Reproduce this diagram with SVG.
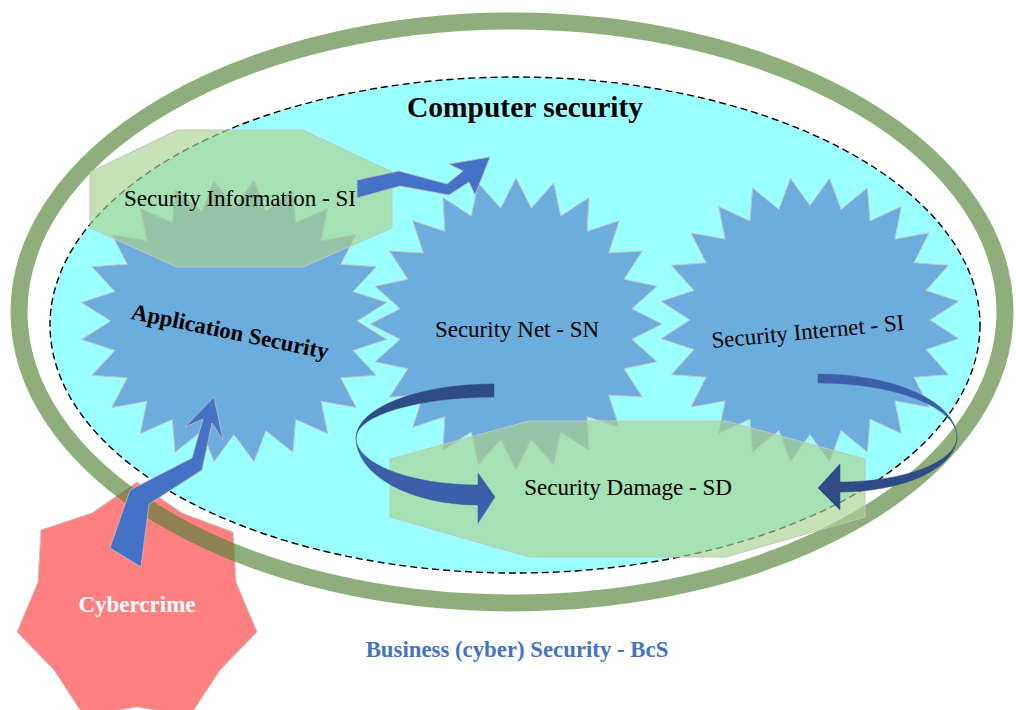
<svg xmlns="http://www.w3.org/2000/svg" xmlns:xlink="http://www.w3.org/1999/xlink" width="1016" height="710" viewBox="0 0 1016 710">
<style>
.t{font-family:"Liberation Serif","Times New Roman",serif;fill:#000;text-anchor:middle}
.b{font-weight:bold}
.star{fill:#6CADDD;stroke:#C4C4C4;stroke-width:1}
.oct{fill:#A9D18E;fill-opacity:0.66;stroke:#C4C4C4;stroke-width:1}
.arr{fill:#4472C4;stroke:#BFBFBF;stroke-width:0.8}
.dk{fill:#2F4C87;stroke:#2F4C87;stroke-width:0.5}
.lt{fill:#3C5FAA;stroke:#3C5FAA;stroke-width:0.5}
</style>
<defs>
<polygon id="star24" vector-effect="non-scaling-stroke" points="100,0 79.32,10.44 96.59,25.88 73.91,30.61 86.6,50 63.47,48.7 70.71,70.71 48.7,63.47 50,86.6 30.61,73.91 25.88,96.59 10.44,79.32 0,100 -10.44,79.32 -25.88,96.59 -30.61,73.91 -50,86.6 -48.7,63.47 -70.71,70.71 -63.47,48.7 -86.6,50 -73.91,30.61 -96.59,25.88 -79.32,10.44 -100,0 -79.32,-10.44 -96.59,-25.88 -73.91,-30.61 -86.6,-50 -63.47,-48.7 -70.71,-70.71 -48.7,-63.47 -50,-86.6 -30.61,-73.91 -25.88,-96.59 -10.44,-79.32 0,-100 10.44,-79.32 25.88,-96.59 30.61,-73.91 50,-86.6 48.7,-63.47 70.71,-70.71 63.47,-48.7 86.6,-50 73.91,-30.61 96.59,-25.88 79.32,-10.44"/>
</defs>
<rect width="1016" height="710" fill="#FFFFFF"/>

<g id="cybercrime">
<polygon points="137,482 182,513 233,532 236,582 257,632 220,670 190,716 137,707 84,716 54,670 17,632 38,582 41,530 92,513" fill="#FF8080" stroke="#C4C4C4" stroke-width="1"/>
</g>

<g id="business-security">
<ellipse cx="512" cy="312" rx="493" ry="291" fill="none" stroke="#548235" stroke-opacity="0.65" stroke-width="17"/>
</g>

<g id="computer-security">
<ellipse cx="515" cy="325" rx="465" ry="248" fill="#9CFFFF" stroke="#000" stroke-width="1.4" stroke-dasharray="7,4"/>
</g>

<g id="application-security">
<use xlink:href="#star24" class="star" transform="translate(234,321) scale(1.54,1.42) rotate(7.5)"/>
</g>
<g id="security-net">
<use xlink:href="#star24" class="star" transform="translate(516,324) scale(1.46,1.46)"/>
</g>
<g id="security-internet">
<use xlink:href="#star24" class="star" transform="translate(810,320) scale(1.5,1.43) rotate(7.5)"/>
</g>

<g id="security-information">
<polygon class="oct" points="177,130 303,130 392,172 392,228 303,267 177,267 90,228 90,172"/>
<text class="t" x="240" y="206" font-size="23">Security Information - SI</text>
</g>
<g id="security-damage">
<polygon class="oct" points="529,421 726,421 865,459 865,517 726,557 529,557 390,517 390,459"/>
<text class="t" x="628" y="495" font-size="23">Security Damage - SD</text>
</g>

<g id="labels">
<text class="t b" x="525" y="117" font-size="29.5">Computer security</text>
<text class="t b" x="230" y="339" font-size="22.8" transform="rotate(11.6 230 332)">Application Security</text>
<text class="t" x="517" y="337" font-size="23">Security Net - SN</text>
<text class="t" x="808" y="339" font-size="23" transform="rotate(-5.4 808 334)">Security Internet - SI</text>
<text class="t b" x="137" y="612" font-size="23" style="fill:#FFFFFF">Cybercrime</text>
<text class="t b" x="517" y="657" font-size="22.8" style="fill:#4472C4">Business (cyber) Security - BcS</text>
</g>

<g id="connectors">
<polygon class="arr" points="357,180 399,171 447,184 463,171 449,164 490,157 475,195 469,182 449,195 400,186 357,198"/>
<polygon class="arr" points="214,397 185,427 203,419 192,458 130,490 110,548 141,567 149,504 202,470 212,423 223,440"/>
<path class="dk" d="M494,384 A138,54 0 0 0 356,438 A138,41 0 0 1 494,397 Z"/>
<path class="lt" d="M356,438 A122,67 0 0 0 478,505 L478,523 L495,497 L478,473 L478,485 A122,47 0 0 1 356,438 Z"/>
<path class="lt" d="M818,374 A139,63 0 0 1 957,437 A139,54 0 0 0 818,383 Z"/>
<path class="dk" d="M957,437 A117,55 0 0 1 840,492 L840,510 L818,488 L840,464 L840,482 A117,45 0 0 0 957,437 Z"/>
</g>
</svg>
